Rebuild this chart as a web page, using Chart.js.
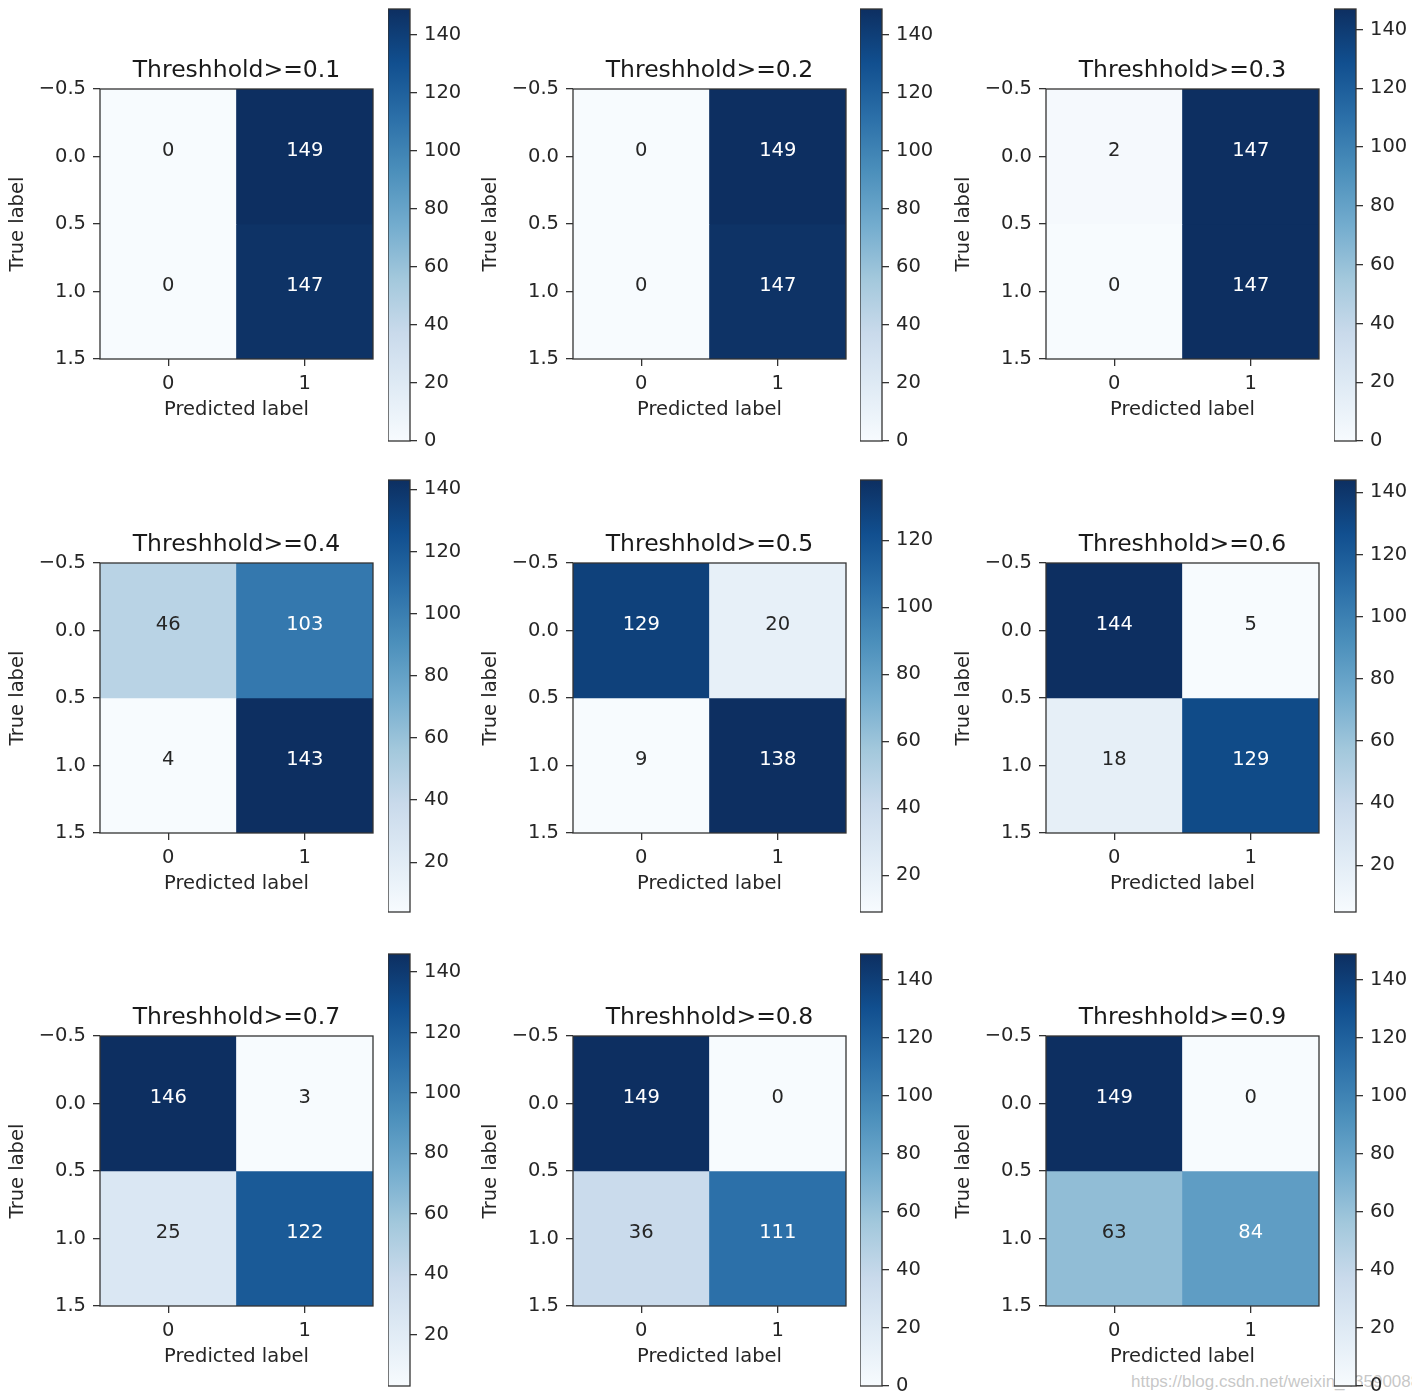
<!DOCTYPE html>
<html>
<head>
<meta charset="utf-8">
<script src="https://cdn.jsdelivr.net/npm/chart.js@4.4.1/dist/chart.umd.min.js"></script>
<style>
  body { margin: 0; background: #fff; }
  #wrap { position: relative; width: 1412px; height: 1400px; overflow: hidden; background: #fff; }
  #wrap canvas { position: absolute; }
  .mark { position: absolute; left: 1131px; top: 1372px; font: 17px "Liberation Sans", Arial, sans-serif; color: rgba(185, 185, 185, 0.8); white-space: nowrap; }
</style>
</head>
<body>
<div id="wrap">
  <div class="mark">https://blog.csdn.net/weixin_43590088</div>
</div>
<script>
// one entry per threshold, cells of the 2x2 confusion matrix
const thresholds = ["0.1", "0.2", "0.3", "0.4", "0.5", "0.6", "0.7", "0.8", "0.9"];
const cell00 = [0, 0, 2, 46, 129, 144, 146, 149, 149];
const cell01 = [149, 149, 147, 103, 20, 5, 3, 0, 0];
const cell10 = [0, 0, 0, 4, 9, 18, 25, 36, 63];
const cell11 = [147, 147, 147, 143, 138, 129, 122, 111, 84];
const predLabels = ["0", "1"];
const colorbarStep = 20;

// matplotlib "Blues"
const BLUES = ["#f7fbff", "#deebf7", "#c6dbef", "#9ecae1", "#6baed6", "#4292c6", "#2171b5", "#08519c", "#08306b"];
const DESAT = 0.15; // the screenshot is a bit washed out

// panel placement
const colLeft = [100, 573, 1046];
const rowTop = [89, 563, 1036];
const cbLeft = [388, 860, 1334];
const cbTop = [9, 480, 954];
const AXW = 273, AXH = 270;
const CB_W = 22, CB_H = 432;
const CB_PAD = 20;

Chart.defaults.font.family = '"DejaVu Sans", sans-serif';
Chart.defaults.font.size = 19.5;
Chart.defaults.color = "#262626";

const hexRgb = (h) => {
    const c = [1, 3, 5].map((i) => parseInt(h.slice(i, i + 2), 16));
    const l = 0.3 * c[0] + 0.59 * c[1] + 0.11 * c[2];
    return c.map((v) => v * (1 - DESAT) + l * DESAT);
};
const rgbStr = (c) => `rgb(${c.map((v) => Math.round(v)).join(",")})`;
const BLUES_RGB = BLUES.map(hexRgb);
const blues = (t) => {
    t = Math.max(0, Math.min(1, t));
    const p = t * (BLUES_RGB.length - 1);
    const i = Math.min(Math.floor(p), BLUES_RGB.length - 2);
    const f = p - i;
    const a = BLUES_RGB[i], b = BLUES_RGB[i + 1];
    return rgbStr(a.map((v, k) => v + (b[k] - v) * f));
};

const fmtTick = (v) => (v < 0 ? "\u2212" : "") + Math.abs(v).toFixed(1);

const tickGrid = { display: true, drawOnChartArea: false, drawTicks: true, tickLength: 7, color: "#333", lineWidth: 1.3 };

const heatPlugin = {
    id: "heatText",
    afterDatasetsDraw(chart, args, opts) {
        const { ctx, chartArea: a } = chart;
        const x = chart.scales.x, y = chart.scales.y;
        ctx.save();
        ctx.textAlign = "center";
        ctx.textBaseline = "middle";
        ctx.font = '19.5px "DejaVu Sans"';
        opts.cells.forEach((row, i) => row.forEach((v, j) => {
            ctx.fillStyle = v > opts.thresh ? "#ffffff" : "#262626";
            ctx.fillText(String(v), x.getPixelForValue(j), y.getPixelForValue(i) - 6);
        }));
        ctx.strokeStyle = "#333";
        ctx.lineWidth = 1.3;
        ctx.strokeRect(a.left, a.top, a.right - a.left, a.bottom - a.top);
        ctx.font = '23.5px "DejaVu Sans"';
        ctx.fillStyle = "#1a1a1a";
        ctx.fillText(opts.title, (a.left + a.right) / 2, a.top - 18);
        ctx.restore();
    },
};

const framePlugin = {
    id: "cbFrame",
    afterDatasetsDraw(chart) {
        const { ctx, chartArea: a } = chart;
        ctx.save();
        ctx.strokeStyle = "#333";
        ctx.lineWidth = 1.3;
        ctx.strokeRect(a.left, a.top, a.right - a.left, a.bottom - a.top);
        ctx.restore();
    },
};

const wrap = document.getElementById("wrap");
const addCanvas = (left, top, w, h) => {
    const c = document.createElement("canvas");
    c.width = w;
    c.height = h;
    c.style.left = left + "px";
    c.style.top = top + "px";
    c.style.width = w + "px";
    c.style.height = h + "px";
    wrap.appendChild(c);
    return c;
};

thresholds.forEach((th, k) => {
    const col = k % 3, row = Math.floor(k / 3);
    const cells = [[cell00[k], cell01[k]], [cell10[k], cell11[k]]];
    const all = cells.flat();
    const vmin = Math.min(...all), vmax = Math.max(...all);
    const norm = (v) => (v - vmin) / (vmax - vmin);

    // heatmap
    const hc = addCanvas(colLeft[col] - 100, rowTop[row] - 45, 100 + AXW + 5, 45 + AXH + 63 + 2);
    new Chart(hc, {
        type: "bar",
        data: {
            labels: predLabels,
            datasets: cells.map((r, i) => ({
                data: r.map(() => [i - 0.5, i + 0.5]),
                backgroundColor: r.map((v) => blues(norm(v))),
                borderWidth: 0,
                grouped: false,
                categoryPercentage: 1,
                barPercentage: 1,
            })),
        },
        options: {
            responsive: false,
            animation: false,
            layout: { padding: { top: 45, right: 5, bottom: 2, left: 0 } },
            plugins: {
                legend: { display: false },
                tooltip: { enabled: false },
                heatText: { cells, thresh: vmax / 2, title: "Threshhold>=" + th },
            },
            scales: {
                x: {
                    type: "category",
                    offset: true,
                    grid: { ...tickGrid, offset: false },
                    border: { display: false },
                    ticks: { padding: 6, maxRotation: 0 },
                    title: { display: true, text: "Predicted label", padding: 0 },
                    afterFit: (s) => { s.height = 63; },
                },
                y: {
                    type: "linear",
                    reverse: true,
                    min: -0.5,
                    max: 1.5,
                    grid: tickGrid,
                    border: { display: false },
                    ticks: { stepSize: 0.5, padding: 7, callback: fmtTick },
                    title: { display: true, text: "True label", padding: { top: 6, bottom: 0 } },
                    afterFit: (s) => { s.width = 100; },
                },
            },
        },
        plugins: [heatPlugin],
    });

    // colorbar
    const cc = addCanvas(cbLeft[col], cbTop[row] - CB_PAD, CB_W + 60, CB_H + 2 * CB_PAD);
    new Chart(cc, {
        type: "bar",
        data: {
            labels: [""],
            datasets: [{
                data: [[vmin, vmax]],
                borderWidth: 0,
                categoryPercentage: 1,
                barPercentage: 1,
                backgroundColor: (c) => {
                    const ch = c.chart;
                    if (!ch.chartArea) return BLUES[4];
                    const ys = ch.scales.y;
                    const g = ch.ctx.createLinearGradient(0, ys.getPixelForValue(vmin), 0, ys.getPixelForValue(vmax));
                    BLUES_RGB.forEach((b, i) => g.addColorStop(i / (BLUES_RGB.length - 1), rgbStr(b)));
                    return g;
                },
            }],
        },
        options: {
            responsive: false,
            animation: false,
            layout: { padding: { top: CB_PAD, bottom: CB_PAD, left: 0, right: 0 } },
            plugins: { legend: { display: false }, tooltip: { enabled: false } },
            scales: {
                x: { display: false },
                y: {
                    type: "linear",
                    position: "right",
                    min: vmin,
                    max: vmax,
                    grid: tickGrid,
                    border: { display: false },
                    ticks: { padding: 7 },
                    afterBuildTicks: (s) => {
                        const t = [];
                        for (let v = Math.ceil(vmin / colorbarStep) * colorbarStep; v <= vmax; v += colorbarStep) t.push({ value: v });
                        s.ticks = t;
                    },
                    afterFit: (s) => { s.width = 60; },
                },
            },
        },
        plugins: [framePlugin],
    });
});
</script>
</body>
</html>
